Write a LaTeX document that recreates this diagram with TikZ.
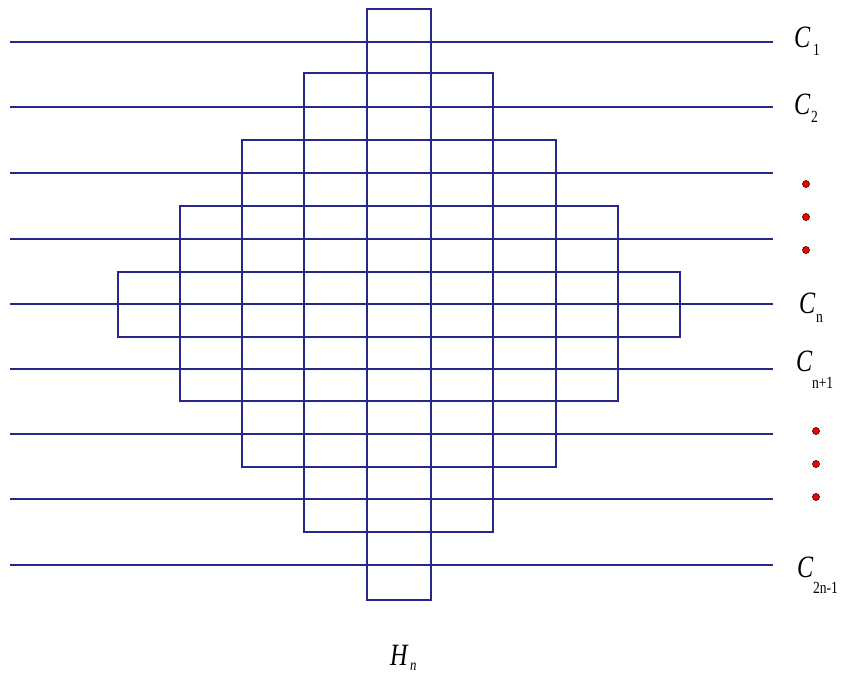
\documentclass[tikz,border=0pt]{standalone}
\usepackage{fontspec}
\setmainfont{Liberation Serif}
\definecolor{gridblue}{RGB}{40,40,140}
\definecolor{dotred}{RGB}{225,10,10}
\begin{document}
\begin{tikzpicture}[x=1pt,y=-1pt,
  gridline/.style={draw=gridblue,line width=2pt},
  lbl/.style={anchor=base west,inner sep=0pt,outer sep=0pt},
  reddot/.style={circle,fill=dotred,draw=black!60!red,line width=0.7pt,minimum size=7pt,inner sep=0pt}]
\newcommand{\bigC}[1]{\scalebox{0.78}[1]{\fontsize{31}{31}\selectfont\itshape #1}}
\newcommand{\smallsub}[1]{\scalebox{0.8}[1]{\fontsize{17}{17}\selectfont #1}}
\useasboundingbox (0,0) rectangle (848,674);
% horizontal lines C_i
\foreach \y in {42,107,173,239,304,369,434,499,565}
  \draw[gridline] (10,\y) -- (773,\y);
% nested rectangles
\draw[gridline] (367,9) rectangle (431,600);
\draw[gridline] (304,73) rectangle (493,532);
\draw[gridline] (242,140) rectangle (556,467);
\draw[gridline] (180,206) rectangle (618,401);
\draw[gridline] (118,272) rectangle (680,337);
% labels
\node[lbl] (c1) at (794,48) {\bigC{C}};
\node[lbl] (c1s) at (813,56) {\smallsub{1}};
\node[lbl] (c2) at (794,115) {\bigC{C}};
\node[lbl] (c2s) at (811,123) {\smallsub{2}};
\node[lbl] (cn) at (799,313) {\bigC{C}};
\node[lbl] (cns) at (816,322) {\smallsub{n}};
\node[lbl] (cn1) at (796,371) {\bigC{C}};
\node[lbl] (cn1s) at (812,388) {\smallsub{n+1}};
\node[lbl] (c2n) at (797,577) {\bigC{C}};
\node[lbl] (c2ns) at (813,593) {\smallsub{2n-1}};
\node[lbl] (h) at (390,665) {\bigC{H}};
\node[lbl] (hs) at (410,670) {\scalebox{0.8}[1]{\fontsize{16}{16}\selectfont\itshape n}};
% dots
\node[reddot] (d1) at (806,184) {};
\node[reddot] (d2) at (806,217) {};
\node[reddot] (d3) at (806,250) {};
\node[reddot] (d4) at (816,431) {};
\node[reddot] (d5) at (816,464) {};
\node[reddot] (d6) at (816,497) {};
\end{tikzpicture}
\end{document}
